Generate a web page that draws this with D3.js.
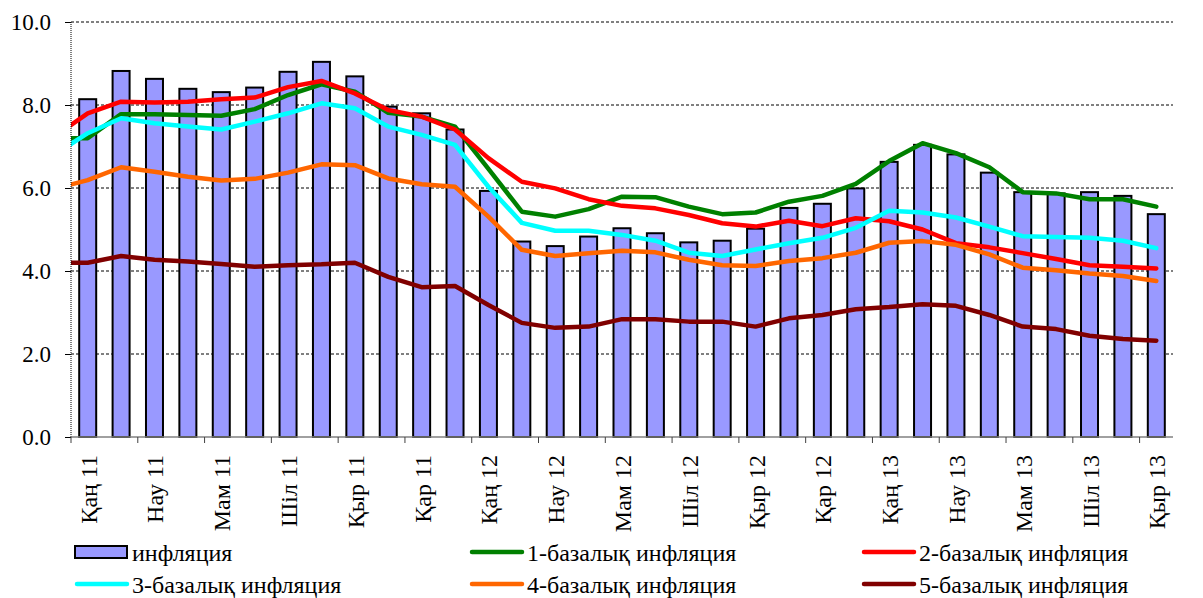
<!DOCTYPE html>
<html>
<head>
<meta charset="utf-8">
<script src="https://cdn.jsdelivr.net/npm/d3@7"></script>
<style>
    body { margin: 0; background: #fff; }
</style>
</head>
<body>
<div class="chart"></div>
<script>
// months Jan 2011 .. Sep 2013
var months = ["Қаң", "Ақп", "Нау", "Сәу", "Мам", "Мау", "Шіл", "Там", "Қыр", "Қаз", "Қар", "Жел"];
var years = ["11", "12", "13"];
var yTicks = [0, 2, 4, 6, 8, 10];

var inflation = [8.14, 8.82, 8.63, 8.39, 8.31, 8.42, 8.80, 9.04, 8.69, 7.96, 7.80,
    7.41, 5.93, 4.71, 4.60, 4.83, 5.03, 4.91, 4.69, 4.73, 5.02, 5.52,
    5.62, 5.99, 6.63, 7.04, 6.81, 6.37, 5.90, 5.87, 5.90, 5.81, 5.37];

// the line series carry one leading value (Dec 2010), clipped at the axis
var core1 = [7.20, 7.20, 7.78, 7.78, 7.76, 7.74, 7.90, 8.24, 8.50, 8.32, 7.81, 7.72,
    7.48, 6.46, 5.43, 5.31, 5.49, 5.79, 5.78, 5.55, 5.37, 5.41, 5.67,
    5.81, 6.10, 6.65, 7.08, 6.84, 6.50, 5.90, 5.87, 5.73, 5.73, 5.55];
var core2 = [7.24, 7.80, 8.08, 8.06, 8.08, 8.14, 8.18, 8.43, 8.58, 8.28, 7.88, 7.72,
    7.41, 6.72, 6.15, 5.99, 5.73, 5.57, 5.51, 5.35, 5.15, 5.07, 5.21,
    5.08, 5.27, 5.20, 5.00, 4.67, 4.57, 4.43, 4.29, 4.14, 4.10, 4.06];
var core3 = [6.80, 7.32, 7.68, 7.56, 7.48, 7.41, 7.60, 7.80, 8.04, 7.92, 7.48, 7.28,
    7.04, 6.03, 5.16, 4.97, 4.97, 4.87, 4.73, 4.44, 4.36, 4.52, 4.67,
    4.80, 5.04, 5.45, 5.41, 5.29, 5.07, 4.84, 4.82, 4.80, 4.73, 4.55];
var core4 = [5.98, 6.19, 6.50, 6.39, 6.27, 6.18, 6.22, 6.37, 6.57, 6.55, 6.23, 6.09,
    6.03, 5.31, 4.51, 4.36, 4.43, 4.49, 4.45, 4.27, 4.14, 4.12, 4.24,
    4.31, 4.44, 4.68, 4.72, 4.63, 4.40, 4.08, 4.02, 3.94, 3.88, 3.76];
var core5 = [4.20, 4.20, 4.36, 4.27, 4.23, 4.17, 4.10, 4.14, 4.16, 4.20, 3.86, 3.61,
    3.64, 3.18, 2.75, 2.63, 2.66, 2.84, 2.84, 2.78, 2.78, 2.66, 2.86,
    2.94, 3.08, 3.13, 3.20, 3.16, 2.94, 2.66, 2.60, 2.44, 2.36, 2.32];

var barName = "инфляция";
var lineNames = ["1-базалық инфляция", "2-базалық инфляция", "3-базалық инфляция",
    "4-базалық инфляция", "5-базалық инфляция"];
var lineColors = ["#008000", "#ff0000", "#00ffff", "#ff6600", "#800000"];

var categories = [];
for (var k = 0; k < inflation.length; k++) {
    categories.push(months[k % 12] + " " + years[Math.floor(k / 12)]);
}

var width = 1203, height = 598;
var plotLeft = 71, plotRight = 1173, plotTop = 22, plotBottom = 437;
var font = "Liberation Serif";

var svg = d3.select(".chart")
            .append("svg")
            .attr("width", width)
            .attr("height", height);

var x = d3.scaleLinear()
          .domain([-0.5, categories.length - 0.5])
          .range([plotLeft, plotRight]);
var y = d3.scaleLinear()
          .domain([0, 10])
          .range([plotBottom, plotTop]);

svg.append("clipPath").attr("id", "plot")
    .append("rect")
    .attr("x", plotLeft).attr("y", plotTop - 5)
    .attr("width", plotRight - plotLeft).attr("height", plotBottom - plotTop + 5);

// gridlines
svg.append("g").selectAll("line")
    .data(yTicks.filter(function(d) { return d > 0; }))
    .enter().append("line")
    .attr("x1", plotLeft).attr("x2", plotRight)
    .attr("y1", function(d) { return y(d); })
    .attr("y2", function(d) { return y(d); })
    .attr("stroke", "#000")
    .attr("stroke-width", 1)
    .attr("stroke-dasharray", "3,2");

// bars
var barW = 17;
svg.append("g").selectAll("rect")
    .data(inflation)
    .enter().append("rect")
    .attr("x", function(d, i) { return x(i) - barW / 2; })
    .attr("y", function(d) { return y(d); })
    .attr("width", barW)
    .attr("height", function(d) { return y(0) - y(d); })
    .attr("fill", "#9999ff")
    .attr("stroke", "#000")
    .attr("stroke-width", 2);

// core inflation lines
var line = d3.line()
    .x(function(d, i) { return x(i - 1); })
    .y(function(d) { return y(d); });

var lines = [core1, core2, core3, core4, core5];
svg.append("g").attr("clip-path", "url(#plot)")
    .selectAll("path")
    .data(lines)
    .enter().append("path")
    .attr("d", line)
    .attr("fill", "none")
    .attr("stroke", function(d, i) { return lineColors[i]; })
    .attr("stroke-width", 4.5)
    .attr("stroke-linejoin", "round")
    .attr("stroke-linecap", "round");

// y axis
var yAxis = d3.axisLeft(y)
    .tickValues(yTicks)
    .tickFormat(d3.format(".1f"))
    .tickSize(6)
    .tickPadding(14);
var gy = svg.append("g")
    .attr("transform", "translate(" + plotLeft + ",0)")
    .call(yAxis);
gy.select(".domain").remove();
gy.selectAll("text")
    .attr("fill", "#000")
    .attr("font-family", font)
    .attr("font-size", 23);
gy.selectAll("line").attr("stroke", "#000");
gy.append("line")
    .attr("x1", 0).attr("x2", 0)
    .attr("y1", plotTop).attr("y2", plotBottom)
    .attr("stroke", "#000")
    .attr("stroke-dasharray", "1,1");

// x axis: tick marks every two months, labels on every other month
var tickPos = d3.range(0, categories.length + 1, 2).map(function(i) { return i - 0.5; });
var gx = svg.append("g");
gx.append("line")
    .attr("x1", plotLeft).attr("x2", plotRight)
    .attr("y1", plotBottom).attr("y2", plotBottom)
    .attr("stroke", "#808080")
    .attr("stroke-width", 1.5);
gx.selectAll(".tick")
    .data(tickPos)
    .enter().append("line")
    .attr("x1", function(d) { return x(d); })
    .attr("x2", function(d) { return x(d); })
    .attr("y1", plotBottom).attr("y2", plotBottom + 6)
    .attr("stroke", "#404040");
gx.selectAll("text")
    .data(categories.filter(function(d, i) { return i % 2 === 0; }))
    .enter().append("text")
    .attr("transform", function(d, i) {
        return "translate(" + (x(i * 2) + 9) + "," + (plotBottom + 18) + ") rotate(-90)";
    })
    .attr("text-anchor", "end")
    .attr("font-family", font)
    .attr("font-size", 24)
    .text(function(d) { return d; });

// legend
var legend = svg.append("g");
var legendItems = [
    { name: barName, bar: true, x: 75, y: 552 },
    { name: lineNames[0], color: lineColors[0], x: 470, y: 552 },
    { name: lineNames[1], color: lineColors[1], x: 862, y: 552 },
    { name: lineNames[2], color: lineColors[2], x: 75, y: 584 },
    { name: lineNames[3], color: lineColors[3], x: 470, y: 584 },
    { name: lineNames[4], color: lineColors[4], x: 862, y: 584 }
];
legendItems.forEach(function(item) {
    if (item.bar) {
        legend.append("rect")
            .attr("x", item.x).attr("y", item.y - 6)
            .attr("width", 52).attr("height", 12)
            .attr("fill", "#9999ff")
            .attr("stroke", "#000")
            .attr("stroke-width", 2);
    } else {
        legend.append("line")
            .attr("x1", item.x + 2).attr("x2", item.x + 52)
            .attr("y1", item.y).attr("y2", item.y)
            .attr("stroke", item.color)
            .attr("stroke-width", 4.5)
            .attr("stroke-linecap", "round");
    }
    legend.append("text")
        .attr("x", item.x + 57)
        .attr("y", item.y + 9)
        .attr("font-family", font)
        .attr("font-size", 24)
        .text(item.name);
});
</script>
</body>
</html>
